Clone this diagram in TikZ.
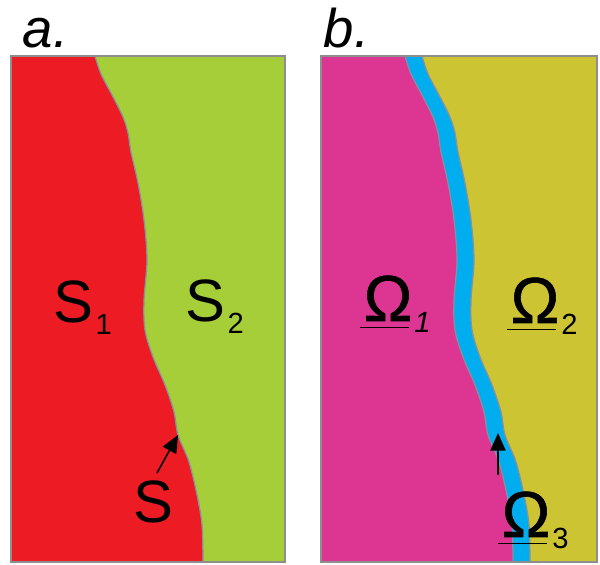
\documentclass[tikz,border=0pt]{standalone}
\usepackage{fontspec}
\setmainfont{Liberation Sans}
\newfontface\omface{Liberation Sans}[FakeBold=0.9]
\usetikzlibrary{arrows.meta}

\definecolor{sred}{HTML}{ED1C24}
\definecolor{sgreen}{HTML}{A6CE39}
\definecolor{omag}{HTML}{DC3592}
\definecolor{oolive}{HTML}{CCC432}
\definecolor{oblue}{HTML}{00AEEF}
\definecolor{framegray}{HTML}{8E8E8E}
\definecolor{rimgray}{HTML}{8A8FA0}

% the wavy boundary, in pixels of the left panel
\def\rim{(95,56) (101,74) (112,95) (123,117) (128,133) (131,152) (138,183)
  (144,220) (147,260) (144,300) (145,330) (153,357) (165,385) (174,412)
  (178,435) (189,462) (197,495) (202,525) (203,562)}

\newcommand{\sublab}[2]{#1\kern0.6pt{\fontsize{8.3}{9}\selectfont\raisebox{-3.3pt}{#2}}}
\newcommand{\ulomega}{\setbox0\hbox{\omface Ω}\rlap{\kern-1pt\rule[-2.1pt]{\wd0}{0.5pt}}\box0}
\newcommand{\omlab}[1]{\ulomega\kern0.6pt{\fontsize{8.3}{9}\selectfont\raisebox{-3.2pt}{#1}}}

\tikzset{
  frame/.style={draw=framegray, line width=0.4pt},
  rimline/.style={draw=rimgray, line width=0.35pt},
  lab/.style={anchor=base west, inner sep=0pt, font=\fontsize{17}{20}\selectfont},
  omlabel/.style={anchor=base west, inner sep=0pt, font=\fontsize{18.5}{20}\selectfont},
  panel/.style={anchor=base west, inner sep=0pt, font=\fontsize{15.5}{18}\selectfont\itshape},
  pointer/.style={line width=0.45pt, -{Triangle[length=5pt,width=4.3pt]}}
}

\begin{document}
\begin{tikzpicture}[x=0.01cm, y=-0.01cm]
  \useasboundingbox (0,0) rectangle (600,565);

  % panel a
  \fill[sred] (11,56) rectangle (285,562);
  \fill[sgreen] plot[smooth, tension=0.55] coordinates {\rim} -- (285,562) -- (285,56) -- cycle;
  \draw[rimline] plot[smooth, tension=0.55] coordinates {\rim};
  \draw[frame] (11,56) rectangle (285,562);

  \node[panel] (tagA) at (22,48) {a.};
  \node[lab] (s1) at (53,323) {\sublab{S}{1}};
  \node[lab] (s2) at (185,322) {\sublab{S}{2}};
  \node[lab] (s) at (133,523) {S};
  \coordinate (sTail) at (157,473);
  \coordinate (sTip) at (178,435);
  \draw[pointer] (sTail) -- (sTip);

  % panel b
  \fill[omag] (321,56) rectangle (597,562);
  \begin{scope}[shift={(310,0)}]
    \fill[oblue] plot[smooth, tension=0.55] coordinates {\rim} -- (287,562) -- (287,56) -- cycle;
    \draw[rimline] plot[smooth, tension=0.55] coordinates {\rim};
  \end{scope}
  \begin{scope}[shift={(327,0)}]
    \fill[oolive] plot[smooth, tension=0.55] coordinates {\rim} -- (270,562) -- (270,56) -- cycle;
    \draw[rimline] plot[smooth, tension=0.55] coordinates {\rim};
  \end{scope}
  \draw[frame] (321,56) rectangle (597,562);

  \node[panel] (tagB) at (323,48) {b.};
  \node[omlabel] (om1) at (363,321) {\omlab{\itshape 1}};
  \node[omlabel] (om2) at (510,323) {\omlab{2}};
  \node[omlabel] (om3) at (501,537) {\omlab{3}};
  \coordinate (omTail) at (498,475);
  \coordinate (omTip) at (498,433);
  \draw[pointer] (omTail) -- (omTip);
\end{tikzpicture}
\end{document}
